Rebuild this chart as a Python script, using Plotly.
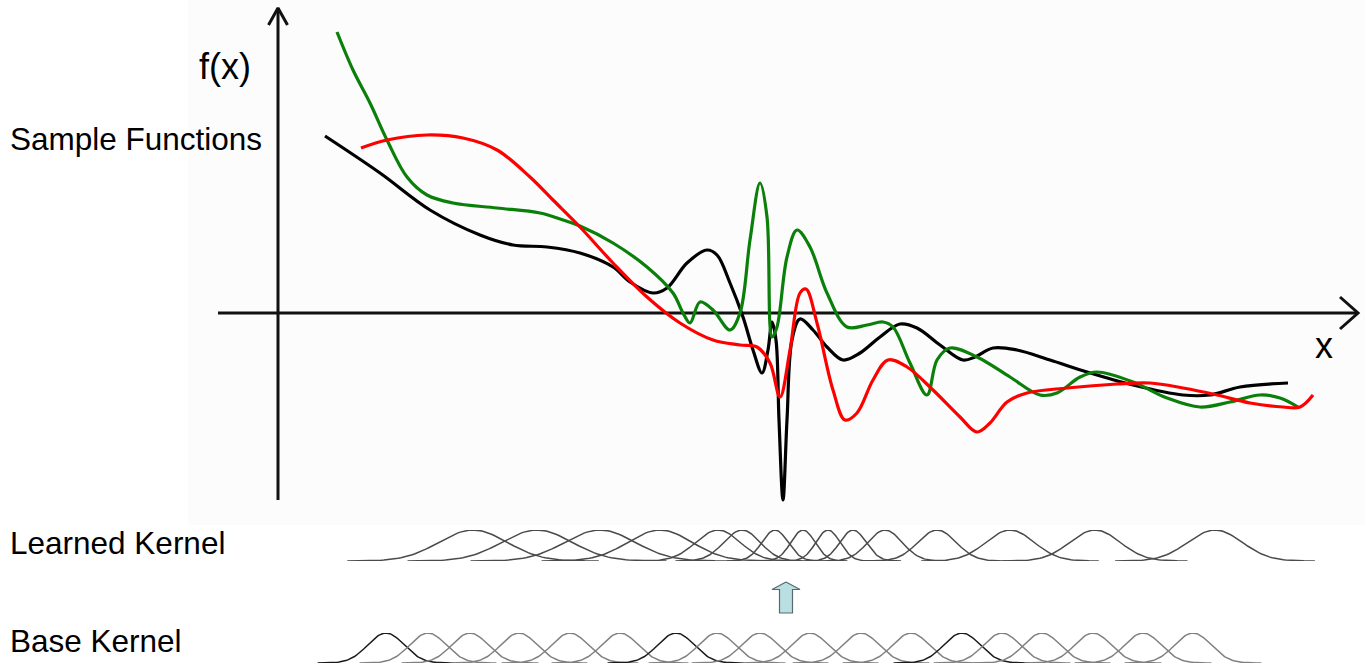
import numpy as np
import plotly.graph_objects as go

# ---- sample functions (x, f(x)) ----
black_x = [4.7, 10.2, 15.2, 20.2, 23.5, 26.9, 30.2, 33.5, 35.2, 37.5, 38.9, 40.9, 42.9, 43.9, 45.2,
           46.5, 47.5, 48.4, 49.0, 49.4, 49.8, 50.1, 50.5, 50.9, 51.4, 52.2, 53.5, 54.9, 56.5, 58.2,
           60.2, 62.2, 63.9, 66.2, 68.5, 69.7, 71.5, 73.9, 77.2, 80.9, 85.5, 90.5, 93.2, 96.2, 101.0]
black_y = [17.7, 14.0, 10.3, 7.8, 6.8, 6.6, 6.0, 4.6, 3.1, 2.0, 2.5, 5.0, 6.3, 5.8, 3.0,
           -0.4, -3.7, -6.0, -3.7, -0.9, -2.7, -10.7, -18.7, -10.7, -2.7, -0.6, -1.7, -3.4, -4.7, -4.0,
           -2.4, -1.1, -1.5, -3.2, -4.7, -4.4, -3.5, -3.7, -4.7, -5.9, -7.2, -8.2, -8.2, -7.4, -7.0]

green_x = [5.9, 7.5, 9.2, 10.9, 12.9, 14.9, 17.5, 21.9, 26.2, 28.5, 30.2, 33.5, 36.9, 39.5, 40.5,
           41.2, 42.2, 43.5, 45.2, 46.2, 47.2, 48.2, 48.9, 49.4, 49.9, 50.9, 51.9, 53.2, 54.9, 56.9,
           58.9, 60.5, 61.5, 63.2, 64.9, 65.9, 67.2, 69.9, 73.2, 76.2, 77.9, 80.2, 81.9, 85.5, 88.9,
           92.2, 95.2, 98.2, 100.2, 102.0]
green_y = [28.1, 24.3, 21.0, 17.3, 13.6, 11.8, 11.0, 10.5, 10.0, 9.3, 8.7, 7.0, 4.6, 2.0, 0.0,
           -1.0, 1.1, 0.3, -1.7, 0.0, 7.3, 13.0, 9.6, -2.4, -1.4, 5.6, 8.3, 6.6, 2.0, -1.4,
           -1.2, -0.9, -1.4, -5.0, -8.2, -4.7, -3.5, -4.4, -6.4, -8.2, -8.0, -6.4, -5.9, -6.9, -8.5,
           -9.4, -8.9, -8.2, -8.5, -9.4]

red_x = [8.3, 10.9, 14.9, 18.5, 21.9, 25.2, 27.5, 30.2, 33.5, 36.9, 40.2, 43.5, 46.2, 47.9, 49.2,
         50.2, 51.2, 52.2, 52.8, 53.9, 55.5, 56.7, 57.9, 59.5, 61.0, 62.9, 65.5, 68.2, 69.9, 71.2,
         72.9, 74.9, 78.9, 83.9, 87.2, 90.5, 93.9, 97.2, 100.5, 102.2, 103.5]
red_y = [16.5, 17.3, 17.8, 17.5, 16.3, 13.6, 11.3, 8.6, 5.0, 1.6, -1.0, -2.7, -3.2, -3.4, -5.0,
         -8.4, -3.7, 2.0, 2.4, -1.0, -7.7, -10.7, -10.0, -6.7, -4.7, -5.4, -7.7, -10.4, -11.9, -11.0,
         -8.9, -8.0, -7.5, -7.1, -7.0, -7.5, -8.2, -9.0, -9.4, -9.4, -8.2]

# ---- kernels: bump centres and widths ----
learned_centers = [19.5, 25.9, 32.2, 38.2, 44.0, 46.4, 49.7, 52.5, 55.0, 57.5, 60.7, 65.9, 73.2, 81.7, 93.7]
learned_widths = [3.4, 3.5, 3.5, 3.2, 2.2, 1.8, 1.3, 1.2, 1.2, 1.3, 1.7, 1.9, 2.4, 2.5, 2.7]

base_centers = [10.8, 15.0, 19.2, 24.1, 29.2, 34.2, 39.8, 43.9, 48.2, 53.2, 58.3, 63.3, 68.4, 72.4,
                76.4, 81.5, 86.5, 91.5]
base_width = 1.8

# axis extents
x_axis_span = [-6.0, 108.0]
y_axis_span = [-18.7, 30.5]

fig = go.Figure()

AXIS_COLOR = "#111111"

def add_line(x, y, color, width, yaxis="y", shape="linear", fill=None, fillcolor=None):
    fig.add_trace(go.Scatter(x=x, y=y, mode="lines", yaxis=yaxis, fill=fill, fillcolor=fillcolor,
                             line=dict(color=color, width=width, shape=shape),
                             hoverinfo="skip", showlegend=False))

# coordinate axes with open arrowheads
add_line(x_axis_span, [0, 0], AXIS_COLOR, 3)
add_line([0, 0], y_axis_span, AXIS_COLOR, 3)
tip = x_axis_span[1]
add_line([tip - 1.8, tip, tip - 1.8], [1.6, 0, -1.6], AXIS_COLOR, 3)
tip = y_axis_span[1]
add_line([-0.95, 0, 0.95], [tip - 1.7, tip, tip - 1.7], AXIS_COLOR, 3)

# sample functions
add_line(black_x, black_y, "#000000", 3.2, shape="spline")
add_line(green_x, green_y, "#0a800a", 3.2, shape="spline")
add_line(red_x, red_y, "#ff0000", 3.2, shape="spline")

# learned kernel bumps
for c, s in zip(learned_centers, learned_widths):
    xs = np.linspace(c - 3.7 * s, c + 3.7 * s, 90)
    add_line(xs, np.exp(-(xs - c) ** 2 / (2 * s * s)), "#4a4a4a", 1.5, yaxis="y2")

# base kernel bumps
for i, c in enumerate(base_centers):
    xs = np.linspace(c - 3.8 * base_width, c + 3.8 * base_width, 90)
    col = "#1a1a1a" if i % 6 == 0 else "#808080"
    add_line(xs, np.exp(-(xs - c) ** 2 / (2 * base_width ** 2)), col, 1.5, yaxis="y3")

# block arrow between kernel rows
ax_c, ax_top, ax_bot = 50.8, -26.9, -30.0
arrow_x = [ax_c, ax_c + 1.4, ax_c + 0.65, ax_c + 0.65, ax_c - 0.65, ax_c - 0.65, ax_c - 1.4, ax_c]
arrow_y = [ax_top, ax_top - 0.75, ax_top - 0.75, ax_bot, ax_bot, ax_top - 0.75, ax_top - 0.75, ax_top]
add_line(arrow_x, arrow_y, "#5a6a6c", 1.2, fill="toself", fillcolor="#b9dfe3")

FONT = "Liberation Sans, Arial, sans-serif"
labels = [
    ("Sample Functions", 0.006, 1 - 139 / 670, 31.5),
    ("Learned Kernel", 0.006, 1 - 543 / 670, 31.5),
    ("Base Kernel", 0.006, 1 - 641 / 670, 31.5),
]
annotations = [dict(text=t, x=x, y=y, xref="paper", yref="paper", xanchor="left", yanchor="middle",
                    showarrow=False, font=dict(family=FONT, size=sz, color="#000000"))
               for t, x, y, sz in labels]
annotations.append(dict(text="f(x)", x=225 / 1365, y=1 - 66 / 670, xref="paper", yref="paper",
                        xanchor="center", yanchor="middle", showarrow=False,
                        font=dict(family=FONT, size=36, color="#000000")))
annotations.append(dict(text="x", x=1324 / 1365, y=1 - 345 / 670, xref="paper", yref="paper",
                        xanchor="center", yanchor="middle", showarrow=False,
                        font=dict(family=FONT, size=36, color="#000000")))

hidden = dict(visible=False, showgrid=False, zeroline=False, fixedrange=True)
fig.update_layout(
    width=1365, height=670,
    margin=dict(l=0, r=0, t=0, b=0),
    paper_bgcolor="#ffffff", plot_bgcolor="rgba(0,0,0,0)",
    xaxis=dict(range=[-27.8, 108.7], anchor="y", **hidden),
    yaxis=dict(range=[-35.7, 31.3], domain=[0, 1], **hidden),
    yaxis2=dict(range=[0, 1], domain=[1 - 561 / 670, 1 - 530 / 670], anchor="x", **hidden),
    yaxis3=dict(range=[0, 1], domain=[1 - 663 / 670, 1 - 633 / 670], anchor="x", **hidden),
    shapes=[dict(type="rect", xref="paper", yref="paper", x0=188 / 1365, x1=1, y0=1 - 525 / 670, y1=1,
                 fillcolor="#fcfcfc", line=dict(width=0), layer="below")],
    annotations=annotations,
)

fig.write_html("out.html")
